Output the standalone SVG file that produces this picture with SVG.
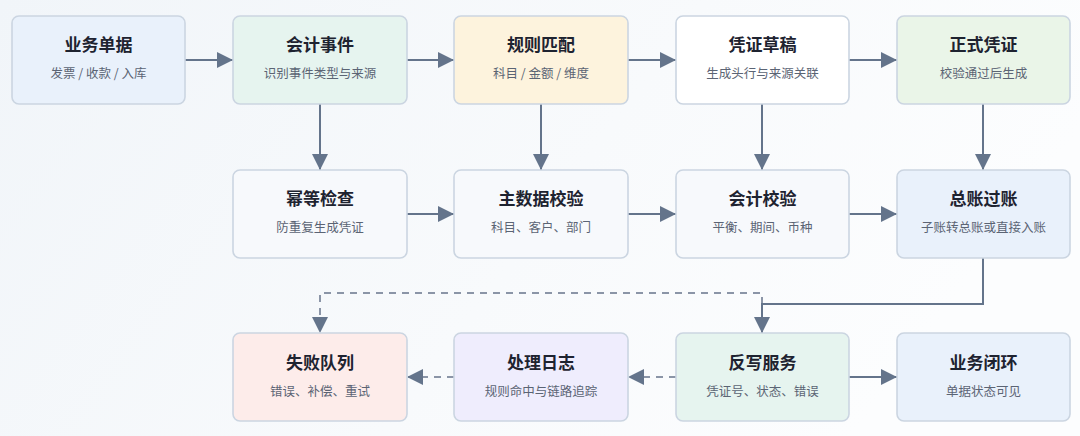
<svg xmlns="http://www.w3.org/2000/svg" width="1080" height="436" viewBox="0 0 1080 436">
<defs>
<linearGradient id="bg" x1="0" y1="0" x2="1" y2="0.3">
<stop offset="0" stop-color="#f1f5f9"/>
<stop offset="0.6" stop-color="#f8fafc"/>
<stop offset="1" stop-color="#fcfdfe"/>
</linearGradient>
<marker id="arr" markerUnits="userSpaceOnUse" markerWidth="16" markerHeight="16" viewBox="0 0 16 16" refX="16" refY="8" orient="auto">
<path d="M0,0 L16,8 L0,16 Z" fill="#64748b"/>
</marker>
<marker id="arrd" markerUnits="userSpaceOnUse" markerWidth="16" markerHeight="16" viewBox="0 0 16 16" refX="16" refY="8" orient="auto">
<path d="M0,0 L16,8 L0,16 Z" fill="#64748b"/>
</marker>
</defs>
<style>
.box{stroke:#cbd5e1;stroke-width:1.6}
.t{font-family:"Noto Sans CJK SC","Noto Sans",sans-serif;font-size:17px;font-weight:700;fill:#1e2330;text-anchor:middle}
.s{font-family:"Noto Sans CJK SC","Noto Sans",sans-serif;font-size:12.5px;fill:#5b6474;text-anchor:middle}
.e{fill:none;stroke:#64748b;stroke-width:2;marker-end:url(#arr)}
.d{fill:none;stroke:#8b95a7;stroke-width:2;stroke-dasharray:7,6;marker-end:url(#arrd)}
</style>
<rect width="1080" height="436" fill="url(#bg)"/>
<g id="connectors">
<path class="d" d="M762,304 V293 H320 V333"/>
<path class="d" d="M676,377 H628"/>
<path class="d" d="M454,377 H407"/>
<path class="e" d="M185,60 H233"/>
<path class="e" d="M407,60 H454"/>
<path class="e" d="M628,60 H676"/>
<path class="e" d="M849,60 H897"/>
<path class="e" d="M320,104 V170"/>
<path class="e" d="M541,104 V170"/>
<path class="e" d="M762,104 V170"/>
<path class="e" d="M983,104 V170"/>
<path class="e" d="M407,214 H454"/>
<path class="e" d="M628,214 H676"/>
<path class="e" d="M849,214 H897"/>
<path class="e" d="M983,258 V304 H762 V333"/>
<path class="e" d="M849,377 H897"/>
</g>
<g id="n1"><rect class="box" x="12" y="16" width="173" height="88" rx="7" fill="#e9f1fb"/><text class="t" x="98.5" y="51">业务单据</text><text class="s" x="98.5" y="78">发票 / 收款 / 入库</text></g>
<g id="n2"><rect class="box" x="233" y="16" width="174" height="88" rx="7" fill="#e6f4ef"/><text class="t" x="320" y="51">会计事件</text><text class="s" x="320" y="78">识别事件类型与来源</text></g>
<g id="n3"><rect class="box" x="454" y="16" width="174" height="88" rx="7" fill="#fdf3dd"/><text class="t" x="541" y="51">规则匹配</text><text class="s" x="541" y="78">科目 / 金额 / 维度</text></g>
<g id="n4"><rect class="box" x="676" y="16" width="173" height="88" rx="7" fill="#ffffff"/><text class="t" x="762.5" y="51">凭证草稿</text><text class="s" x="762.5" y="78">生成头行与来源关联</text></g>
<g id="n5"><rect class="box" x="897" y="16" width="173" height="88" rx="7" fill="#eaf5e8"/><text class="t" x="983.5" y="51">正式凭证</text><text class="s" x="983.5" y="78">校验通过后生成</text></g>
<g id="n6"><rect class="box" x="233" y="170" width="174" height="88" rx="7" fill="#f7f9fc"/><text class="t" x="320" y="205">幂等检查</text><text class="s" x="320" y="232">防重复生成凭证</text></g>
<g id="n7"><rect class="box" x="454" y="170" width="174" height="88" rx="7" fill="#f7f9fc"/><text class="t" x="541" y="205">主数据校验</text><text class="s" x="541" y="232">科目、客户、部门</text></g>
<g id="n8"><rect class="box" x="676" y="170" width="173" height="88" rx="7" fill="#f7f9fc"/><text class="t" x="762.5" y="205">会计校验</text><text class="s" x="762.5" y="232">平衡、期间、币种</text></g>
<g id="n9"><rect class="box" x="897" y="170" width="173" height="88" rx="7" fill="#e9f1fb"/><text class="t" x="983.5" y="205">总账过账</text><text class="s" x="983.5" y="232">子账转总账或直接入账</text></g>
<g id="n10"><rect class="box" x="233" y="333" width="174" height="88" rx="7" fill="#fdecea"/><text class="t" x="320" y="369">失败队列</text><text class="s" x="320" y="396">错误、补偿、重试</text></g>
<g id="n11"><rect class="box" x="454" y="333" width="174" height="88" rx="7" fill="#efedfd"/><text class="t" x="541" y="369">处理日志</text><text class="s" x="541" y="396">规则命中与链路追踪</text></g>
<g id="n12"><rect class="box" x="676" y="333" width="173" height="88" rx="7" fill="#e6f4ef"/><text class="t" x="762.5" y="369">反写服务</text><text class="s" x="762.5" y="396">凭证号、状态、错误</text></g>
<g id="n13"><rect class="box" x="897" y="333" width="173" height="88" rx="7" fill="#e9f1fb"/><text class="t" x="983.5" y="369">业务闭环</text><text class="s" x="983.5" y="396">单据状态可见</text></g>
</svg>
